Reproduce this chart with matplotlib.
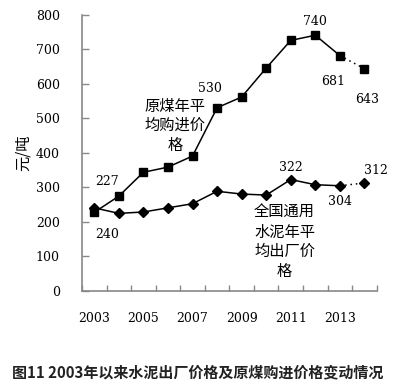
import matplotlib
matplotlib.use("Agg")
import matplotlib.pyplot as plt

years = [2003, 2004, 2005, 2006, 2007, 2008, 2009, 2010, 2011, 2012, 2013, 2014]
coal = [227, 274, 343, 358, 390, 530, 561, 645, 725, 740, 681, 643]
cement = [240, 224, 228, 240, 252, 288, 280, 277, 322, 307, 304, 312]
xtick_labels = ["2003", "2005", "2007", "2009", "2011", "2013"]
yticks = [0, 100, 200, 300, 400, 500, 600, 700, 800]

coal_label = "原煤年平\n均购进价\n格"
cement_label = "全国通用\n水泥年平\n均出厂价\n格"
ylabel = "元/吨"
title = "图11 2003年以来水泥出厂价格及原煤购进价格变动情况"

cjk = ["Noto Sans CJK SC", "DejaVu Sans"]
num_font = "DejaVu Serif"

fig = plt.figure(figsize=(3.95, 3.85), dpi=100)
ax = fig.add_axes([0.2076, 0.2449, 0.9537 - 0.2076, 0.9623 - 0.2449])

x = list(range(len(years)))
n = len(years)
lw = 1.1
ax.plot(x[:n-1], coal[:n-1], color="black", lw=lw, marker="s", ms=5.5)
ax.plot(x[n-2:], coal[n-2:], color="black", lw=lw, ls=(0, (1, 2.5)))
ax.plot(x[n-1:], coal[n-1:], color="black", lw=0, marker="s", ms=5.5)
ax.plot(x[:n-1], cement[:n-1], color="black", lw=lw, marker="D", ms=5.5)
ax.plot(x[n-2:], cement[n-2:], color="black", lw=lw, ls=(0, (1, 2.5)))
ax.plot(x[n-1:], cement[n-1:], color="black", lw=0, marker="D", ms=5.5)

ax.set_xlim(-0.5, n - 0.5)
ax.set_ylim(0, 800)
ax.set_yticks(yticks)
ax.set_yticklabels([str(v) for v in yticks], fontfamily=num_font, fontsize=9)
ax.set_xticks([i for i in range(0, n, 2)])
ax.set_xticklabels(xtick_labels, fontfamily=num_font, fontsize=9)
ax.set_xticks([i - 0.5 for i in range(n + 1)], minor=True)
ax.tick_params(axis="x", which="major", length=0, pad=15)
ax.tick_params(axis="x", which="minor", length=4, direction="in", color="#888888", width=1)
ax.tick_params(axis="y", length=5, direction="in", color="#888888", width=1, pad=16)
for s in ["top", "right"]:
    ax.spines[s].set_visible(False)
for s in ["left", "bottom"]:
    ax.spines[s].set_color("#888888")
    ax.spines[s].set_linewidth(1.2)

ax.set_ylabel(ylabel, fontfamily=cjk, fontsize=11, va="center")
ax.yaxis.set_label_coords(-0.2, 0.5)

def lab(xi, yv, txt, dx, dy):
    ax.annotate(txt, (xi, yv), xytext=(dx, dy), textcoords="offset points",
                ha="center", va="center", fontfamily=num_font, fontsize=9)

lab(0, coal[0], str(coal[0]), 9.5, 22)
lab(0, cement[0], str(cement[0]), 9.5, -19)
lab(5, coal[5], str(coal[5]), -5, 14)
lab(9, coal[9], str(coal[9]), 0, 10)
lab(10, coal[10], str(coal[10]), -5, -19)
lab(11, coal[11], str(coal[11]), 2, -22)
lab(8, cement[8], str(cement[8]), 0, 9)
lab(10, cement[10], str(cement[10]), 0, -11)
lab(11, cement[11], str(cement[11]), 8, 9)

ax.text(3.3, 478, coal_label, fontfamily=cjk, fontsize=11, ha="center", va="center",
        linespacing=1.2)
ax.text(7.75, 142, cement_label, fontfamily=cjk, fontsize=11, ha="center", va="center",
        linespacing=1.2)

fig.text(0.5, 1 - 372 / 385, title, fontfamily=cjk, fontsize=10.8, fontweight="bold",
         ha="center", va="center", color="#222222")

fig.savefig("out.png", dpi=100)
